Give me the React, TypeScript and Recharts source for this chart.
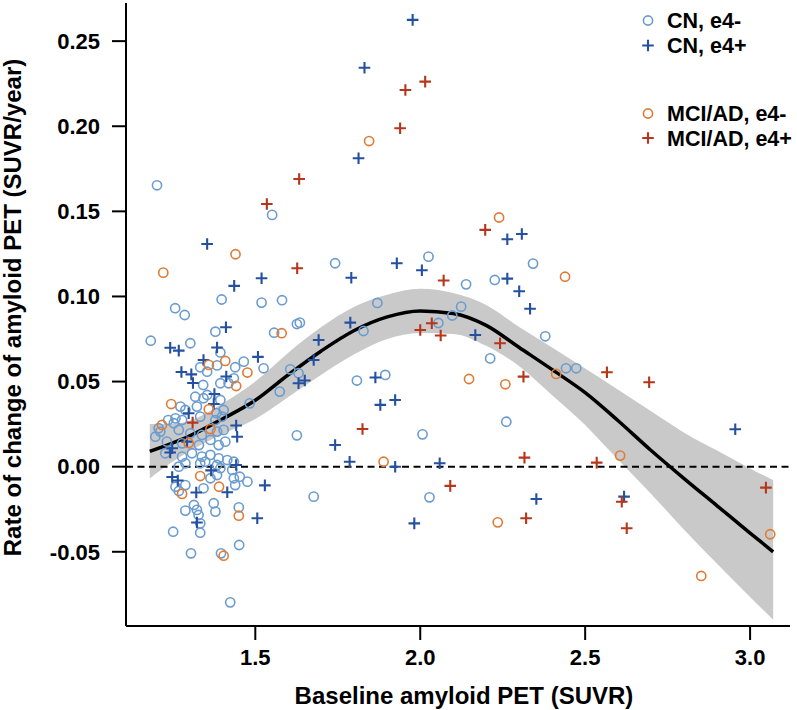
import React from 'react';
import {
  ComposedChart,
  XAxis,
  YAxis,
  Scatter,
  Line,
  Area,
  ReferenceLine,
  Legend,
} from 'recharts';

const FONT = '"Liberation Sans", Arial, Helvetica, sans-serif';

// x ticks / y ticks
const xTicks = [1.5, 2.0, 2.5, 3.0];
const yTicks = [-0.05, 0, 0.05, 0.1, 0.15, 0.2, 0.25];

// loess fit with confidence band
const loessX = [1.18, 1.25, 1.3, 1.4, 1.5, 1.6, 1.7, 1.8, 1.9, 2.0, 2.1, 2.2, 2.3, 2.4, 2.5, 2.6, 2.7, 2.8, 2.9, 3.0, 3.07];
const loessFit = [0.009, 0.014, 0.018, 0.028, 0.039, 0.054, 0.068, 0.08, 0.088, 0.0915, 0.09, 0.083, 0.07, 0.057, 0.0435, 0.027, 0.0095, -0.007, -0.023, -0.039, -0.05];
const loessUpper = [0.025, 0.025, 0.027, 0.037, 0.05, 0.067, 0.082, 0.094, 0.101, 0.1045, 0.102, 0.095, 0.082, 0.07, 0.0577, 0.0452, 0.0325, 0.02, 0.0095, -0.001, -0.008];
const loessLower = [-0.007, 0.003, 0.009, 0.019, 0.028, 0.041, 0.054, 0.066, 0.075, 0.0785, 0.078, 0.071, 0.059, 0.042, 0.0245, 0.004, -0.016, -0.037, -0.057, -0.0765, -0.09];

// CN, e4-  (baseline SUVR, rate)
const cnE4Neg: [number, number][] = [
  [1.202, 0.1653], [1.551, 0.1479], [1.742, 0.1195], [1.398, 0.0982], [1.519, 0.0964], [1.581, 0.0978],
  [1.257, 0.0931], [1.286, 0.0891], [1.87, 0.0962], [1.626, 0.0838], [1.635, 0.0846], [1.828, 0.0797],
  [1.379, 0.0793], [1.557, 0.0787], [1.183, 0.074], [1.303, 0.0725], [1.394, 0.0671], [1.465, 0.0617],
  [1.384, 0.0595], [1.439, 0.0584], [1.525, 0.0578], [1.333, 0.0584], [1.435, 0.0519], [1.394, 0.049],
  [1.342, 0.048], [1.574, 0.0441], [1.606, 0.0572], [1.631, 0.0549], [1.483, 0.0372], [1.318, 0.0411],
  [1.343, 0.0402], [1.273, 0.0353], [1.288, 0.0333], [1.404, 0.0333], [1.626, 0.0184], [1.197, 0.0176],
  [1.212, 0.0206], [1.253, 0.0255], [1.394, -0.0009], [1.435, 0.0029], [1.435, -0.0068], [1.453, -0.0059],
  [1.476, -0.0088], [1.258, -0.0118], [1.268, -0.0143], [1.343, -0.0127], [1.677, -0.0176], [1.374, -0.0215],
  [1.379, -0.0264], [1.45, -0.0239], [1.288, -0.0258], [1.323, -0.0254], [1.328, -0.0284], [1.314, -0.0225],
  [1.333, -0.0333], [1.251, -0.0382], [1.333, -0.0388], [1.305, -0.0509], [1.396, -0.0509], [1.451, -0.046],
  [1.424, -0.0797], [1.354, 0.0558], [1.419, 0.049], [1.354, 0.0421], [1.394, 0.0392], [1.323, 0.0353],
  [1.382, 0.0315], [1.236, 0.0274], [1.258, 0.0284], [1.278, 0.0274], [1.333, 0.0294], [1.379, 0.0274],
  [1.399, 0.0294], [1.207, 0.0226], [1.268, 0.0216], [1.303, 0.0196], [1.338, 0.0186], [1.384, 0.0206],
  [1.404, 0.0216], [1.232, 0.0147], [1.278, 0.0137], [1.329, 0.0127], [1.364, 0.0157], [1.389, 0.0127],
  [1.409, 0.0147], [1.227, 0.0079], [1.278, 0.0059], [1.308, 0.0079], [1.338, 0.0059], [1.364, 0.0069],
  [1.389, 0.0049], [1.415, 0.0039], [1.288, 0.002], [1.333, 0.002], [1.268, 0.0], [1.348, 0.0029],
  [1.384, 0.001], [1.43, -0.0019], [1.364, -0.0068], [1.384, -0.0049], [1.288, -0.0108], [1.439, -0.0108],
  [2.212, 0.0636], [2.442, 0.0578], [2.473, 0.0578], [2.261, 0.0264], [2.007, 0.019], [2.028, -0.018],
  [2.025, 0.1234], [2.139, 0.1071], [2.226, 0.1097], [2.342, 0.1193], [2.124, 0.094], [2.097, 0.0888],
  [2.055, 0.0844], [2.379, 0.0766], [1.808, 0.0506], [1.894, 0.0539],
];

// CN, e4+
const cnE4Pos: [number, number][] = [
  [1.977, 0.2625], [1.831, 0.2344], [1.813, 0.1812], [1.354, 0.1308], [1.791, 0.111], [1.929, 0.1195],
  [1.519, 0.1107], [1.436, 0.1062], [2.005, 0.1154], [1.788, 0.0846], [1.692, 0.0744], [1.411, 0.0819],
  [1.242, 0.0699], [1.268, 0.0682], [1.384, 0.07], [1.508, 0.0645], [1.343, 0.0627], [1.276, 0.0556],
  [1.306, 0.0542], [1.412, 0.053], [1.311, 0.0492], [1.376, 0.0427], [1.374, 0.0368], [1.298, 0.0314],
  [1.442, 0.0242], [1.445, 0.0176], [1.293, 0.0147], [1.248, 0.0108], [1.242, 0.0083], [1.366, -0.0022],
  [1.442, 0.001], [1.248, -0.0061], [1.265, -0.0081], [1.529, -0.011], [1.415, -0.015], [1.321, -0.0152],
  [1.506, -0.0303], [1.323, -0.0328], [1.677, 0.0627], [1.631, 0.049], [1.65, 0.0506], [1.864, 0.0524],
  [1.879, 0.0363], [1.924, 0.0392], [1.742, 0.0127], [1.786, 0.0029], [1.924, 0.0], [1.982, -0.0333],
  [2.059, 0.002], [2.352, -0.019], [2.618, -0.0176], [2.955, 0.022], [2.264, 0.1336], [2.308, 0.1367],
  [2.264, 0.1105], [2.3, 0.1031], [2.333, 0.0928], [2.167, 0.0774],
];

// MCI/AD, e4-
const mciE4Neg: [number, number][] = [
  [1.845, 0.1913], [1.44, 0.1248], [1.221, 0.114], [1.58, 0.0784], [1.409, 0.0621], [1.359, 0.0598],
  [1.476, 0.0553], [1.442, 0.0474], [1.245, 0.0368], [1.359, 0.0337], [1.217, 0.0245], [1.364, 0.0221],
  [1.298, 0.0139], [1.333, -0.0055], [1.39, -0.0118], [1.278, -0.016], [1.45, -0.0288], [1.404, -0.0523],
  [2.239, 0.1464], [2.439, 0.1116], [2.412, 0.0545], [2.148, 0.0515], [2.258, 0.0484], [2.606, 0.0065],
  [1.889, 0.0029], [2.235, -0.0327], [3.061, -0.0397], [2.852, -0.0642],
];

// MCI/AD, e4+
const mciE4Pos: [number, number][] = [
  [1.955, 0.2213], [2.015, 0.2262], [1.939, 0.1988], [1.535, 0.1543], [1.633, 0.169], [1.627, 0.1166],
  [1.31, 0.0259], [1.825, 0.0221], [2.197, 0.1391], [2.071, 0.1094], [2.0, 0.0803], [2.035, 0.0843],
  [2.062, 0.0771], [2.242, 0.0725], [2.313, 0.0529], [2.566, 0.0555], [2.694, 0.0496], [2.316, 0.0053],
  [2.535, 0.0024], [2.091, -0.0113], [2.611, -0.0206], [3.048, -0.0123], [2.321, -0.0303], [2.626, -0.0362],
];

const groupLabels = ['CN, e4-', 'CN, e4+', 'MCI/AD, e4-', 'MCI/AD, e4+'];
const groupColors = ['#6a9ccf', '#24509f', '#e07b35', '#b5361b'];

const loessData = loessX.map((x, i) => ({
  x,
  fit: loessFit[i],
  band: [loessLower[i], loessUpper[i]],
}));

const toPoints = (arr: [number, number][]) => arr.map(([x, y]) => ({ x, y }));

const makeCircle = (color: string) => (props: any) => (
  <circle cx={props.cx} cy={props.cy} r={4.6} fill="none" stroke={color} strokeWidth={1.6} />
);

const makePlus = (color: string) => (props: any) => {
  const { cx, cy } = props;
  return (
    <path d={`M${cx - 5.8},${cy}h11.6M${cx},${cy - 5.8}v11.6`} stroke={color} strokeWidth={2.1} fill="none" />
  );
};

const tickStyle = { fill: '#000', fontSize: 22, fontWeight: 700, fontFamily: FONT };

function LegendBox() {
  const rows = [20.5, 45.5, 113.5, 138];
  return (
    <svg width={172} height={150} style={{ display: 'block', overflow: 'visible' }}>
      {groupLabels.map((label, i) => {
        const y = rows[i];
        const color = groupColors[i];
        const sym =
          i % 2 === 0 ? (
            <circle cx={18} cy={y} r={4.6} fill="none" stroke={color} strokeWidth={1.6} />
          ) : (
            <path d={`M${18 - 5.8},${y}h11.6M18,${y - 5.8}v11.6`} stroke={color} strokeWidth={2.1} />
          );
        return (
          <g key={label}>
            {sym}
            <text x={37} y={y + 7.8} fontFamily={FONT} fontWeight={700} fontSize={21.5} fill="#000">
              {label}
            </text>
          </g>
        );
      })}
    </svg>
  );
}

export default function App() {
  return (
    <div style={{ position: 'absolute', left: 0, top: 0, width: 797, height: 710, background: '#fff' }}>
      <ComposedChart width={797} height={710} data={loessData} margin={{ top: 3, right: 7, bottom: 0, left: 0 }}>
        <XAxis
          type="number"
          dataKey="x"
          domain={[1.108, 3.121]}
          allowDataOverflow
          ticks={xTicks}
          tickFormatter={(v: number) => v.toFixed(1)}
          height={84}
          tickSize={14}
          tickMargin={9}
          axisLine={{ stroke: '#000', strokeWidth: 2 }}
          tickLine={{ stroke: '#000', strokeWidth: 2 }}
          tick={tickStyle}
          label={{
            content: (p: any) => {
              const vb = p.viewBox || { x: 126, width: 664 };
              return (
                <text
                  x={vb.x + vb.width / 2 + 6}
                  y={704}
                  textAnchor="middle"
                  fontFamily={FONT}
                  fontWeight={700}
                  fontSize={24}
                  fill="#000"
                >
                  Baseline amyloid PET (SUVR)
                </text>
              );
            },
          }}
        />
        <YAxis
          type="number"
          domain={[-0.0936, 0.2724]}
          allowDataOverflow
          ticks={yTicks}
          tickFormatter={(v: number) => v.toFixed(2)}
          width={126}
          tickSize={14}
          tickMargin={12}
          axisLine={{ stroke: '#000', strokeWidth: 2 }}
          tickLine={{ stroke: '#000', strokeWidth: 2 }}
          tick={tickStyle}
          label={{
            content: () => (
              <text
                x={20.5}
                y={307.5}
                transform="rotate(-90, 20.5, 307.5)"
                textAnchor="middle"
                fontFamily={FONT}
                fontWeight={700}
                fontSize={24}
                fill="#000"
              >
                Rate of change of amyloid PET (SUVR/year)
              </text>
            ),
          }}
        />
        <Area
          dataKey="band"
          type="monotone"
          stroke="none"
          fill="#c9c9c9"
          fillOpacity={1}
          isAnimationActive={false}
          activeDot={false}
        />
        <ReferenceLine y={0} stroke="#000" strokeWidth={2} strokeDasharray="7 4.5" />
        <Line
          dataKey="fit"
          type="monotone"
          stroke="#000"
          strokeWidth={3.5}
          dot={false}
          activeDot={false}
          isAnimationActive={false}
        />
        <Scatter name={groupLabels[0]} data={toPoints(cnE4Neg)} dataKey="y" shape={makeCircle(groupColors[0])} isAnimationActive={false} />
        <Scatter name={groupLabels[1]} data={toPoints(cnE4Pos)} dataKey="y" shape={makePlus(groupColors[1])} isAnimationActive={false} />
        <Scatter name={groupLabels[2]} data={toPoints(mciE4Neg)} dataKey="y" shape={makeCircle(groupColors[2])} isAnimationActive={false} />
        <Scatter name={groupLabels[3]} data={toPoints(mciE4Pos)} dataKey="y" shape={makePlus(groupColors[3])} isAnimationActive={false} />
        <Legend
          layout="vertical"
          verticalAlign="middle"
          align="center"
          wrapperStyle={{ top: 0, left: 630, width: 167 }}
          content={() => <LegendBox />}
        />
      </ComposedChart>
    </div>
  );
}
